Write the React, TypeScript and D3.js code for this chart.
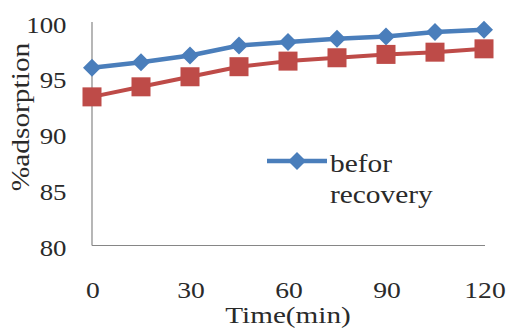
import React from "react";
import * as d3 from "d3";

const times = [0, 15, 30, 45, 60, 75, 90, 105, 120];
const beforRecovery = [95.9, 96.4, 97.0, 97.9, 98.2, 98.5, 98.7, 99.1, 99.3];
const afterRecovery = [93.3, 94.2, 95.1, 96.0, 96.5, 96.8, 97.1, 97.3, 97.6];
const xTicks = [0, 30, 60, 90, 120];
const yTicks = [80, 85, 90, 95, 100];
const legendLines = ["befor", "recovery"];

const W = 509;
const H = 328;
const FONT = "'Liberation Serif', 'Times New Roman', serif";
const BLUE = "#4A7EBB";
const RED = "#BE4B48";
const AXIS = "#868686";
const TEXT = "#2a2a2a";

export default function App() {
  const x = d3.scaleLinear().domain([0, 120]).range([92, 484]);
  const y = d3.scaleLinear().domain([80, 100]).range([245.5, 22]);
  const line = d3
    .line<[number, number]>()
    .x((d) => x(d[0]))
    .y((d) => y(d[1]));
  const blueData: [number, number][] = times.map((t, i) => [t, beforRecovery[i]]);
  const redData: [number, number][] = times.map((t, i) => [t, afterRecovery[i]]);
  const d = 9;
  const s = 9.5;
  const diamond = (cx: number, cy: number) =>
    `M${cx},${cy - d}L${cx + d},${cy}L${cx},${cy + d}L${cx - d},${cy}Z`;

  return (
    <svg
      width={W}
      height={H}
      style={{ position: "fixed", left: 0, top: 0, background: "#fff" }}
      fontFamily={FONT}
    >
      <rect width={W} height={H} fill="#fff" />
      {/* axes */}
      <line x1={x(0)} x2={x(0)} y1={y(100)} y2={y(80)} stroke={AXIS} strokeWidth={1.2} />
      <line x1={x(0)} x2={x(120) + 1} y1={y(80)} y2={y(80)} stroke={AXIS} strokeWidth={1.2} />
      {/* y tick labels */}
      {yTicks.map((t) => (
        <text
          key={t}
          transform={`translate(66.5,${y(t) + 10.5}) scale(1.12,1)`}
          textAnchor="end"
          fontSize={24}
          fill={TEXT}
        >
          {t}
        </text>
      ))}
      {/* x tick labels */}
      {xTicks.map((t) => (
        <text
          key={t}
          transform={`translate(${x(t) + 1},${297.5}) scale(1.15,1)`}
          textAnchor="middle"
          fontSize={24}
          fill={TEXT}
        >
          {t}
        </text>
      ))}
      {/* axis titles */}
      <text
        transform={`translate(288,322.5) scale(1.27,1)`}
        textAnchor="middle"
        fontSize={23}
        fill={TEXT}
      >
        Time(min)
      </text>
      <text
        transform={`translate(29,117) rotate(-90) scale(1.2,1)`}
        textAnchor="middle"
        fontSize={24.5}
        fill={TEXT}
      >
        %adsorption
      </text>
      {/* series */}
      <path d={line(blueData) || ""} fill="none" stroke={BLUE} strokeWidth={4.5} strokeLinejoin="round" />
      {blueData.map((p, i) => (
        <path key={"b" + i} d={diamond(x(p[0]), y(p[1]))} fill={BLUE} />
      ))}
      <path d={line(redData) || ""} fill="none" stroke={RED} strokeWidth={4} strokeLinejoin="round" />
      {redData.map((p, i) => (
        <rect key={"r" + i} x={x(p[0]) - s} y={y(p[1]) - s} width={2 * s} height={2 * s} fill={RED} />
      ))}
      {/* legend */}
      <line x1={267} x2={327} y1={161} y2={161} stroke={BLUE} strokeWidth={4.5} />
      <path d={diamond(297, 161)} fill={BLUE} />
      {legendLines.map((l, i) => (
        <text
          key={l}
          transform={`translate(330,${172 + i * 31}) scale(1.2,1)`}
          fontSize={24.5}
          fill={TEXT}
        >
          {l}
        </text>
      ))}
    </svg>
  );
}
